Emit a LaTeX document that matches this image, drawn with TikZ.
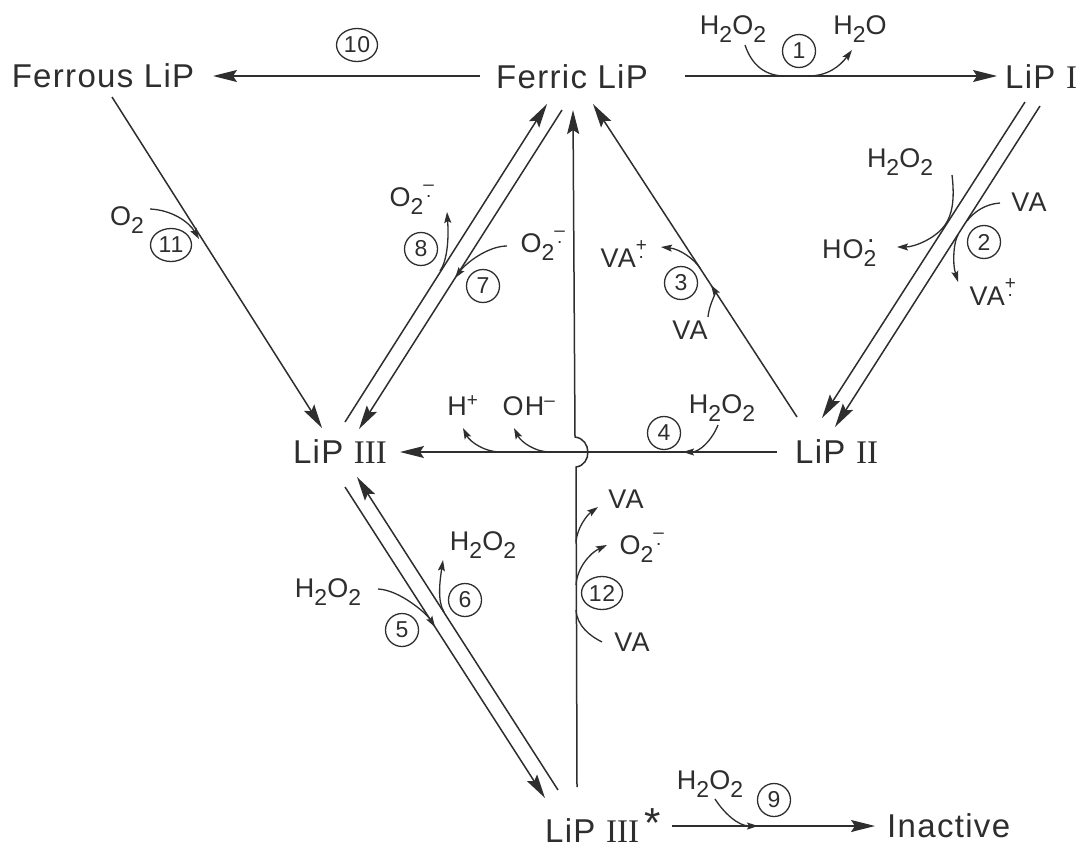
\documentclass[tikz,border=0pt]{standalone}
\usepackage{fontspec}
\setmainfont{Liberation Sans}[LetterSpace=4]
\newfontfamily\rnfont{Liberation Serif}
\usetikzlibrary{arrows.meta,shapes.geometric}
\definecolor{ink}{HTML}{2E2E2E}
\newcommand\rn[1]{{\rnfont #1}}
\newcommand\sub[1]{\raisebox{-0.3em}{\scalebox{0.85}{#1}}}
\newcommand\radsup[1]{\textsuperscript{\shortstack{#1\\[1.5pt].}}}
\newcommand\dotsup{\kern-0.35em\raisebox{0.62em}{.}\kern0.2em}
\begin{document}
\begin{tikzpicture}[x=1pt,y=-1pt,
 main/.style={text=ink, font=\fontsize{33}{36}\selectfont, inner sep=0pt},
 chem/.style={text=ink, font=\fontsize{27}{29}\selectfont, inner sep=0pt},
 num/.style={draw=ink, circle, line width=1.3pt, minimum size=33pt, inner sep=0pt, text=ink, font=\fontsize{23}{24}\selectfont},
 num2/.style={draw=ink, ellipse, line width=1.3pt, minimum width=41pt, minimum height=33pt, inner sep=0pt, text=ink, font=\fontsize{23}{24}\selectfont},
 big/.style={draw=ink, line width=1.5pt, -{Stealth[length=24pt,width=12pt,inset=4pt]}},
 side/.style={draw=ink, line width=1.3pt},
 sidearr/.style={side, -{Stealth[length=11pt,width=7pt,inset=2pt]}},
]
\useasboundingbox[fill=white] (0,0) rectangle (1091,848);

% species
\node[main] (ferrous) at (103,76) {Ferrous LiP};
\node[main] (ferric) at (572,77) {Ferric LiP};
\node[main,anchor=west] (lip1) at (1005,77) {LiP \rn{I}};
\node[main] (lip3) at (340,452) {LiP \rn{III}};
\node[main,anchor=west] (lip2) at (795,452) {LiP \rn{II}};
\node[main,anchor=west] (lip3s) at (545,826) {LiP \rn{III}\,\raisebox{0.15em}{\fontsize{42}{42}\selectfont *}};
\node[main,anchor=west] (inact) at (887,826) {Inactive};

% reaction 1
\coordinate (r1s) at (685,76); \coordinate (r1e) at (997,76);
\draw[big] (r1s) -- (r1e);
\draw[side] (745,45) .. controls (752,66) and (766,76) .. (785,76);
\draw[sidearr] (808,76) .. controls (828,76) and (840,66) .. (852,50);
\node[chem] (h2o2r1) at (733,29) {H\sub{2}O\sub{2}};
\node[chem] (h2op1) at (860,29) {H\sub{2}O};
\node[num] (n1) at (799,51) {1};

% reaction 10
\coordinate (r10s) at (480,76); \coordinate (r10e) at (213,76);
\draw[big] (r10s) -- (r10e);
\node[num2] (n10) at (357,45) {10};

% reaction 11
\coordinate (l11s) at (112,97); \coordinate (l11e) at (322,428);
\draw[big] (l11s) -- (l11e);
\node[chem] (o2r11) at (127,220) {O\sub{2}};
\draw[sidearr] (150,209) .. controls (172,210) and (189,222) .. (199,239);
\node[num2] (n11) at (171,245) {11};

% reactions 8 and 7
\coordinate (l8s) at (345,422); \coordinate (l8e) at (547,104);
\coordinate (l7s) at (562,110); \coordinate (l7e) at (359,429);
\draw[big] (l8s) -- (l8e);
\draw[big] (l7s) -- (l7e);
\draw[sidearr] (440,271) .. controls (447,261) and (449,240) .. (447,212);
\node[chem] (o2p8) at (412,200) {O\sub{2}\radsup{–}};
\node[num] (n8) at (421,249) {8};
\draw[sidearr] (507,246) .. controls (488,246) and (466,263) .. (455,278);
\node[chem] (o2r7) at (543,246) {O\sub{2}\radsup{–}};
\node[num] (n7) at (483,286) {7};

% reaction 3
\coordinate (l3s) at (797,417); \coordinate (l3e) at (593,104);
\draw[big] (l3s) -- (l3e);
\draw[sidearr] (708,317) .. controls (709,305) and (716,293) .. (711,285);
\draw[sidearr] (700,268) .. controls (694,259) and (680,249) .. (661,247);
\node[chem] (vap3) at (624,254) {VA\radsup{+}};
\node[chem] (var3) at (690,330) {VA};
\node[num] (n3) at (681,283) {3};

% reaction 2
\coordinate (l2as) at (1025,102); \coordinate (l2ae) at (822,418);
\coordinate (l2bs) at (1040,106); \coordinate (l2be) at (835,427);
\draw[big] (l2as) -- (l2ae);
\draw[big] (l2bs) -- (l2be);
\draw[sidearr] (952,175) .. controls (955,200) and (952,215) .. (945,225) .. controls (936,238) and (915,247) .. (897,247);
\node[chem] (h2o2r2) at (900,162) {H\sub{2}O\sub{2}};
\node[chem] (ho2p2) at (851,253) {HO\sub{2}\dotsup};
\draw[side] (1000,203) .. controls (985,204) and (974,212) .. (967,221);
\draw[sidearr] (958,235) .. controls (954,241) and (952,262) .. (958,282);
\node[chem] (var2) at (1029,202) {VA};
\node[chem] (vap2) at (993,292) {VA\radsup{+}};
\node[num] (n2) at (984,242) {2};

% reaction 4
\coordinate (l4s) at (777,452); \coordinate (l4e) at (400,452);
\draw[big] (l4s) -- (l4e);
\draw[sidearr] (718,425) .. controls (712,440) and (700,452) .. (683,452);
\node[chem] (h2o2r4) at (722,408) {H\sub{2}O\sub{2}};
\node[num] (n4) at (664,433) {4};
\draw[sidearr] (500,452) .. controls (485,452) and (470,442) .. (463,428);
\draw[sidearr] (550,452) .. controls (535,452) and (521,442) .. (514,428);
\node[chem] (hp4) at (463,406) {H\textsuperscript{+}};
\node[chem] (ohm4) at (529,406) {OH\textsuperscript{–}};

% reaction 12
\coordinate (l12s) at (577,787); \coordinate (l12e) at (573,110);
\draw[big] (l12s) -- (576,467) .. controls (592,465) and (592,439) .. (575,437) -- (l12e);
\draw[side] (602,642) .. controls (590,636) and (577,626) .. (576,610);
\draw[sidearr] (576,585) .. controls (577,568) and (590,553) .. (607,545);
\draw[sidearr] (576,542) .. controls (577,528) and (587,515) .. (598,507);
\node[chem] (vap12) at (626,499) {VA};
\node[chem] (o2p12) at (642,548) {O\sub{2}\radsup{–}};
\node[chem] (var12) at (632,642) {VA};
\node[num2] (n12) at (602,593) {12};

% reactions 5 and 6
\coordinate (l5s) at (345,487); \coordinate (l5e) at (545,798);
\coordinate (l6s) at (558,790); \coordinate (l6e) at (357,477);
\draw[big] (l5s) -- (l5e);
\draw[big] (l6s) -- (l6e);
\draw[sidearr] (378,589) .. controls (400,590) and (427,614) .. (435,627);
\node[chem] (h2o2r5) at (328,592) {H\sub{2}O\sub{2}};
\node[num] (n5) at (402,630) {5};
\draw[sidearr] (444,612) .. controls (437,601) and (440,580) .. (443,560);
\node[chem] (h2o2p6) at (483,545) {H\sub{2}O\sub{2}};
\node[num] (n6) at (465,600) {6};

% reaction 9
\coordinate (r9s) at (672,826); \coordinate (r9e) at (875,826);
\draw[big] (r9s) -- (r9e);
\draw[sidearr] (715,799) .. controls (724,813) and (738,826) .. (758,826);
\node[chem] (h2o2r9) at (710,784) {H\sub{2}O\sub{2}};
\node[num] (n9) at (774,800) {9};
\end{tikzpicture}
\end{document}
